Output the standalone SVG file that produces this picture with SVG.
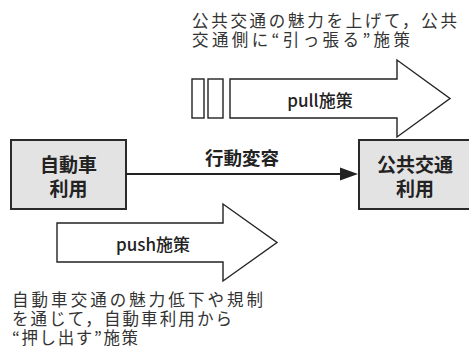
<svg xmlns="http://www.w3.org/2000/svg" width="469" height="355" viewBox="0 0 469 355">
<style>
.box{fill:#e3e3e3;stroke:#2a2a2a;stroke-width:2}
.arrow{fill:#fff;stroke:#222;stroke-width:1.4;stroke-linejoin:miter}
.ntext{font-family:"Noto Sans CJK JP","Noto Sans",sans-serif;font-size:19px;font-weight:bold;fill:#222;text-anchor:middle}
.note{font-family:"Noto Sans CJK JP","Noto Sans",sans-serif;font-size:16.5px;fill:#333}
.alabel{font-family:"Noto Sans CJK JP","Noto Sans",sans-serif;font-size:17px;font-weight:500;fill:#222;text-anchor:middle}
.conn{stroke:#222;stroke-width:2;fill:none}
</style>
<rect width="469" height="355" fill="#fff"/>
<g id="note-pull">
<text class="note" x="192" y="27" textLength="265" lengthAdjust="spacing">公共交通の魅力を上げて，公共</text>
<text class="note" x="192" y="46" textLength="218" lengthAdjust="spacing">交通側に“引っ張る”施策</text>
</g>
<g id="pull-arrow">
<rect class="arrow" x="192" y="79" width="12" height="39"/>
<rect class="arrow" x="208" y="79" width="15" height="39"/>
<polygon class="arrow" points="230,79 397,79 397,60 450,98.5 397,137 397,118 230,118"/>
<text class="alabel" x="320" y="107">pull施策</text>
</g>
<g id="car">
<rect class="box" x="11" y="140" width="115" height="69"/>
<text class="ntext" x="68.5" y="172">自動車</text>
<text class="ntext" x="68.5" y="196">利用</text>
</g>
<g id="transit">
<rect class="box" x="359" y="140" width="112" height="69"/>
<text class="ntext" x="415" y="172">公共交通</text>
<text class="ntext" x="415" y="196">利用</text>
</g>
<g id="connectors">
<line class="conn" x1="126" y1="174" x2="342" y2="174"/>
<polygon points="340,167.5 358,174 340,180.5" fill="#222"/>
<text class="ntext" x="242" y="165" style="font-size:18.5px">行動変容</text>
</g>
<g id="push-arrow">
<polygon class="arrow" points="57,223 223,223 223,204 277,242.5 223,281 223,262 57,262"/>
<text class="alabel" x="153" y="251">push施策</text>
</g>
<g id="note-push">
<text class="note" x="12" y="306" textLength="251" lengthAdjust="spacing">自動車交通の魅力低下や規制</text>
<text class="note" x="12" y="325" textLength="220" lengthAdjust="spacing">を通じて，自動車利用から</text>
<text class="note" x="12" y="344" textLength="126" lengthAdjust="spacing">“押し出す”施策</text>
</g>
</svg>
